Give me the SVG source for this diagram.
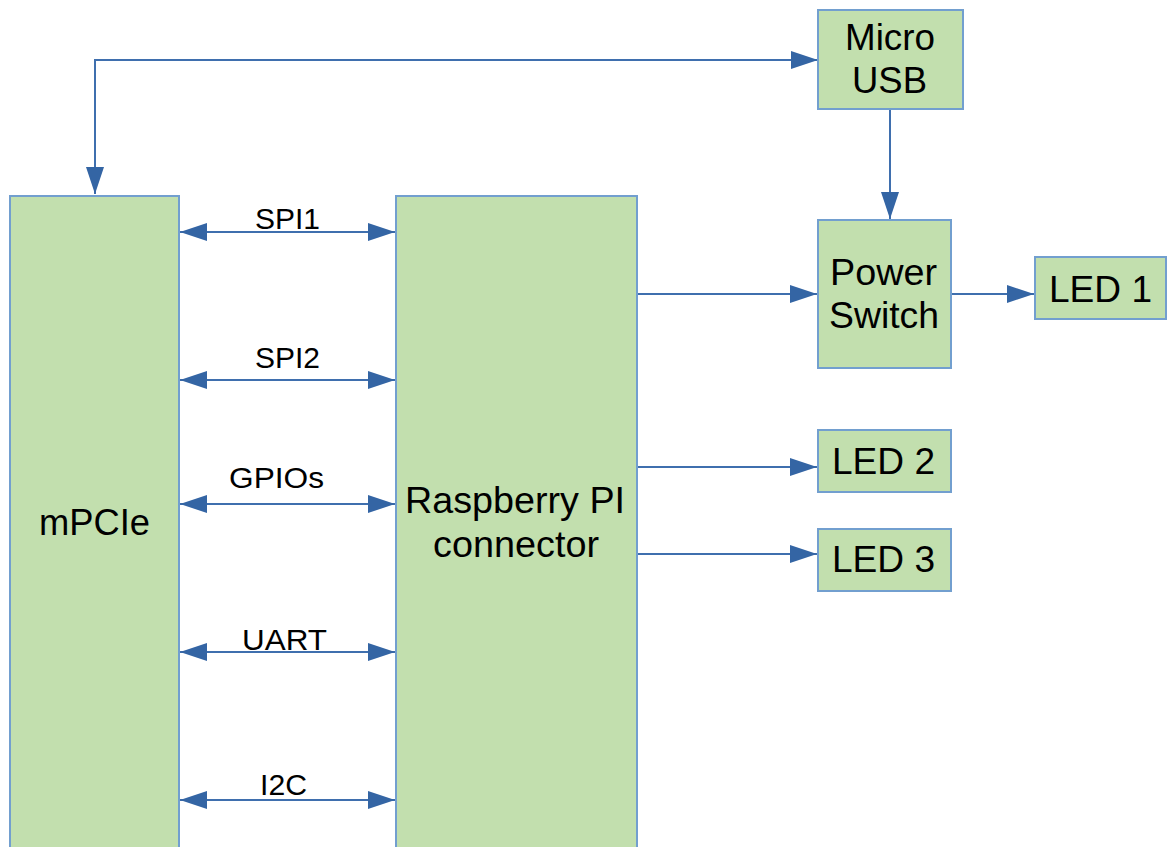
<svg xmlns="http://www.w3.org/2000/svg" width="1167" height="847" viewBox="0 0 1167 847">
<style>
.box{fill:#c2dfae;stroke:#729fcf;stroke-width:2}
.t{font-family:"Liberation Sans",Arial,sans-serif;font-size:36px;fill:#000;text-anchor:middle}
.l{font-family:"Liberation Sans",Arial,sans-serif;font-size:29px;fill:#000;text-anchor:middle}
.c{fill:none;stroke:#3f6fae;stroke-width:2}
</style>
<defs>
<marker id="ae" markerUnits="userSpaceOnUse" markerWidth="28" markerHeight="20" viewBox="0 0 28 20" refX="27" refY="10" orient="auto">
<path d="M0,1 L27,10 L0,19 Z" fill="#3465a4"/>
</marker>
<marker id="as" markerUnits="userSpaceOnUse" markerWidth="28" markerHeight="20" viewBox="0 0 28 20" refX="1" refY="10" orient="auto">
<path d="M28,1 L1,10 L28,19 Z" fill="#3465a4"/>
</marker>
</defs>
<rect width="1167" height="847" fill="#fff"/>
<g id="connectors">
<path class="c" d="M818,60 L95,60 L95,194" marker-end="url(#ae)" marker-start="url(#as)"/>
<path class="c" d="M890,109 L890,219" marker-end="url(#ae)"/>
<path class="c" d="M637,294 L817,294" marker-end="url(#ae)"/>
<path class="c" d="M951,294 L1034,294" marker-end="url(#ae)"/>
<path class="c" d="M637,467 L817,467" marker-end="url(#ae)"/>
<path class="c" d="M637,554 L817,554" marker-end="url(#ae)"/>
<path class="c" d="M180,232 L395,232" marker-start="url(#as)" marker-end="url(#ae)"/>
<path class="c" d="M180,380 L395,380" marker-start="url(#as)" marker-end="url(#ae)"/>
<path class="c" d="M180,504 L395,504" marker-start="url(#as)" marker-end="url(#ae)"/>
<path class="c" d="M180,652 L395,652" marker-start="url(#as)" marker-end="url(#ae)"/>
<path class="c" d="M180,800 L395,800" marker-start="url(#as)" marker-end="url(#ae)"/>
<text class="l" x="287.5" y="229" textLength="65" lengthAdjust="spacingAndGlyphs">SPI1</text>
<text class="l" x="287.5" y="368" textLength="65" lengthAdjust="spacingAndGlyphs">SPI2</text>
<text class="l" x="276.5" y="488" textLength="95" lengthAdjust="spacingAndGlyphs">GPIOs</text>
<text class="l" x="284.5" y="650" textLength="85" lengthAdjust="spacingAndGlyphs">UART</text>
<text class="l" x="283.5" y="795" textLength="47" lengthAdjust="spacingAndGlyphs">I2C</text>
</g>
<g id="mpcie">
<rect class="box" x="10" y="196" width="169" height="670"/>
<text class="t" x="94.5" y="535" textLength="111" lengthAdjust="spacingAndGlyphs">mPCIe</text>
</g>
<g id="rpi">
<rect class="box" x="396" y="196" width="241" height="670"/>
<text class="t" x="515" y="513" textLength="220" lengthAdjust="spacingAndGlyphs">Raspberry PI</text>
<text class="t" x="516" y="557" textLength="166" lengthAdjust="spacingAndGlyphs">connector</text>
</g>
<g id="microusb">
<rect class="box" x="818" y="10" width="145" height="99"/>
<text class="t" x="890" y="50" textLength="90" lengthAdjust="spacingAndGlyphs">Micro</text>
<text class="t" x="889.5" y="93" textLength="75" lengthAdjust="spacingAndGlyphs">USB</text>
</g>
<g id="powerswitch">
<rect class="box" x="818" y="220" width="133" height="148"/>
<text class="t" x="883.5" y="285" textLength="107" lengthAdjust="spacingAndGlyphs">Power</text>
<text class="t" x="884" y="328" textLength="110" lengthAdjust="spacingAndGlyphs">Switch</text>
</g>
<g id="led1">
<rect class="box" x="1035" y="257" width="131" height="62"/>
<text class="t" x="1100.5" y="302" textLength="103" lengthAdjust="spacingAndGlyphs">LED 1</text>
</g>
<g id="led2">
<rect class="box" x="818" y="430" width="133" height="62"/>
<text class="t" x="883.5" y="474" textLength="103" lengthAdjust="spacingAndGlyphs">LED 2</text>
</g>
<g id="led3">
<rect class="box" x="818" y="529" width="133" height="62"/>
<text class="t" x="883.5" y="572" textLength="103" lengthAdjust="spacingAndGlyphs">LED 3</text>
</g>
</svg>
